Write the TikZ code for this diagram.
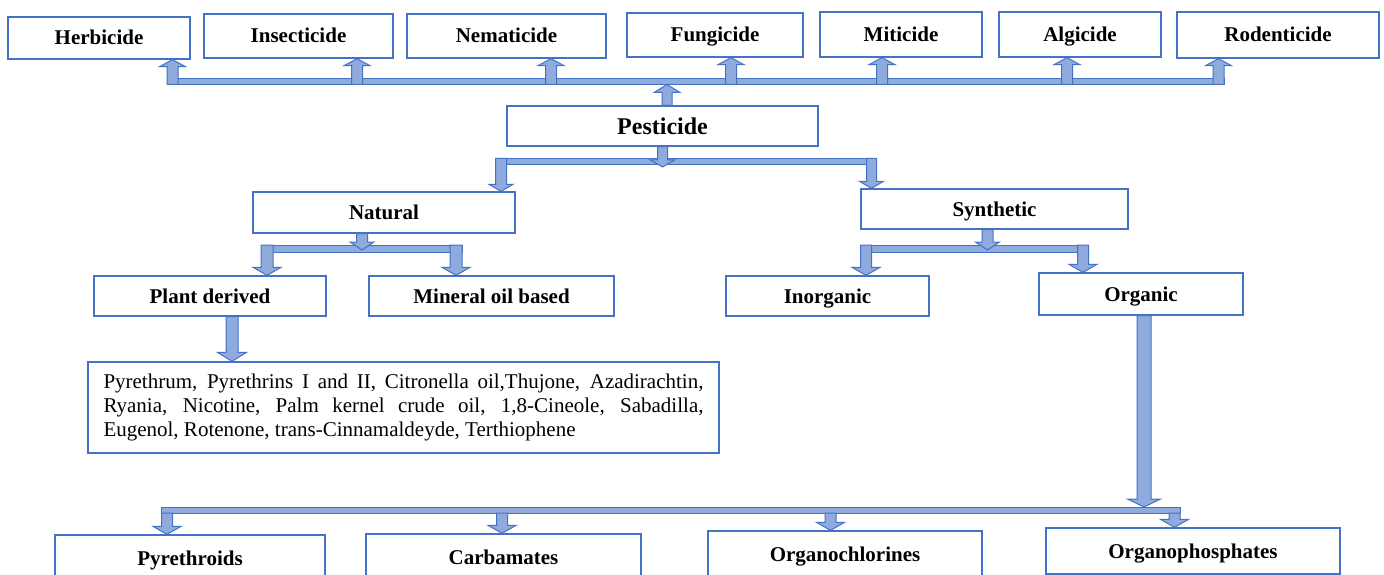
\documentclass[tikz,border=0pt]{standalone}
\usepackage{fontspec}
\setmainfont{Liberation Serif}
\usetikzlibrary{calc}
\definecolor{boxblue}{RGB}{68,114,196}
\definecolor{arrblue}{RGB}{68,114,196}
\definecolor{arrfill}{RGB}{143,170,220}
\newcommand\lab{\fontsize{21}{24}\selectfont\bfseries}
\newcommand\bigLab{\fontsize{24}{28}\selectfont\bfseries}
\newcommand\body{\fontsize{21}{24}\selectfont}
% block arrow: #1 start, #2 tip, #3 shaft half width, #4 head half width, #5 head length
\newcommand\blkarrow[5]{%
  \draw[barstyle] let \p1=#1, \p2=#2, \p3=($#2!#5!#1$) in
    (\x1-#3,\y1) -- (\x1-#3,\y3) -- (\x1-#4,\y3) -- (\x1,\y2) --
    (\x1+#4,\y3) -- (\x1+#3,\y3) -- (\x1+#3,\y1) -- cycle;}
\tikzset{
  box/.style={draw=boxblue, line width=1.3pt, fill=white, inner sep=0pt, text=black},
  labbox/.style={box, font=\lab, text height=16pt, text depth=2pt},
  barstyle/.style={draw=arrblue, fill=arrfill, line width=1pt, line join=miter},
}
\begin{document}
\begin{tikzpicture}[x=1pt,y=-1pt]
\clip (0,0) rectangle (1384,575);
\fill[white] (0,0) rectangle (1384,575);

% ---------- nodes ----------
\node[labbox, minimum width=182, minimum height=42] (herb)   at (99,38)     {Herbicide};
\node[labbox, minimum width=189, minimum height=44] (insect) at (298.5,36)  {Insecticide};
\node[labbox, minimum width=199, minimum height=44] (nemat)  at (506.5,36)  {Nematicide};
\node[labbox, minimum width=176, minimum height=44] (fung)   at (715,35)    {Fungicide};
\node[labbox, minimum width=162, minimum height=45] (mitic)  at (901,34.5)  {Miticide};
\node[labbox, minimum width=162, minimum height=45] (algic)  at (1080,34.5) {Algicide};
\node[labbox, minimum width=202, minimum height=46] (roden)  at (1278,35)   {Rodenticide};

\node[labbox, minimum width=311, minimum height=40, font=\bigLab, text height=19pt, text depth=1pt] (pest) at (662.5,126) {Pesticide};

\node[labbox, minimum width=262, minimum height=41] (natural) at (384,212.5)  {Natural};
\node[labbox, minimum width=267, minimum height=40] (synth)   at (994.5,209)  {Synthetic};

\node[labbox, minimum width=232, minimum height=40] (plant)   at (210,296)    {Plant derived};
\node[labbox, minimum width=245, minimum height=40] (mineral) at (491.5,296)  {Mineral oil based};
\node[labbox, minimum width=203, minimum height=40] (inorg)   at (827.5,296)  {Inorganic};
\node[labbox, minimum width=204, minimum height=42] (organic) at (1141,294)   {Organic};

\node[box, minimum width=631, minimum height=91, font=\body, align=left, inner xsep=15.5pt] (list) at (403.5,407.5)
  {\makebox[600pt][s]{Pyrethrum, Pyrethrins I and II, Citronella oil,Thujone, Azadirachtin,}\\
   \makebox[600pt][s]{Ryania, Nicotine, Palm kernel crude oil, 1,8-Cineole, Sabadilla,}\\
   Eugenol, Rotenone, trans-Cinnamaldeyde, Terthiophene};

\node[labbox, minimum width=270, minimum height=46] (pyr)   at (190,558)    {Pyrethroids};
\node[labbox, minimum width=275, minimum height=46] (carb)  at (503.5,557)  {Carbamates};
\node[labbox, minimum width=274, minimum height=46] (orgcl) at (845,554)    {Organochlorines};
\node[labbox, minimum width=294, minimum height=46] (orgph) at (1193,551)   {Organophosphates};

% ---------- top bus ----------
\draw[barstyle] (167,78.5) rectangle (1224,84.5);
\coordinate (t1) at (172.5,84.5);
\coordinate (t2) at (357,84.5);
\coordinate (t3) at (551,84.5);
\coordinate (t4) at (731,84.5);
\coordinate (t5) at (882,84.5);
\coordinate (t6) at (1067,84.5);
\coordinate (t7) at (1218.5,84.5);
\blkarrow{(t1)}{(herb.south -| t1)}{5.5pt}{13pt}{7pt}
\blkarrow{(t2)}{(insect.south -| t2)}{5.5pt}{13pt}{7pt}
\blkarrow{(t3)}{(nemat.south -| t3)}{5.5pt}{13pt}{7pt}
\blkarrow{(t4)}{(fung.south -| t4)}{5.5pt}{13pt}{7pt}
\blkarrow{(t5)}{(mitic.south -| t5)}{5.5pt}{13pt}{7pt}
\blkarrow{(t6)}{(algic.south -| t6)}{5.5pt}{13pt}{7pt}
\blkarrow{(t7)}{(roden.south -| t7)}{5.5pt}{13pt}{7pt}
\coordinate (pu) at (667,84.5);
\blkarrow{(pest.north -| pu)}{(pu)}{5pt}{13pt}{8pt}

% ---------- pesticide -> natural / synthetic ----------
\draw[barstyle] (495.5,158.5) rectangle (876.5,164.5);
\coordinate (pd) at (662.5,167);
\blkarrow{(pest.south -| pd)}{(pd)}{5pt}{12pt}{7pt}
\coordinate (n1) at (501,158.5);
\coordinate (n2) at (871.5,158.5);
\blkarrow{(n1)}{(natural.north -| n1)}{5.5pt}{12pt}{7pt}
\blkarrow{(n2)}{(synth.north -| n2)}{5pt}{12pt}{7pt}

% ---------- natural -> plant / mineral ----------
\draw[barstyle] (261,245) rectangle (462,252);
\coordinate (nd) at (362,250);
\blkarrow{(natural.south -| nd)}{(nd)}{5.5pt}{12pt}{8pt}
\coordinate (p1) at (267,245);
\coordinate (p2) at (456,245);
\blkarrow{(p1)}{(plant.north -| p1)}{6pt}{14pt}{8pt}
\blkarrow{(p2)}{(mineral.north -| p2)}{6pt}{14pt}{8pt}

% ---------- synthetic -> inorganic / organic ----------
\draw[barstyle] (861,245) rectangle (1088,252);
\coordinate (sd) at (987.5,250);
\blkarrow{(synth.south -| sd)}{(sd)}{5.5pt}{12pt}{8pt}
\coordinate (s1) at (866,245);
\coordinate (s2) at (1083,245);
\blkarrow{(s1)}{(inorg.north -| s1)}{5.5pt}{14pt}{8pt}
\blkarrow{(s2)}{(organic.north -| s2)}{5.5pt}{14pt}{8pt}

% ---------- plant derived -> list ----------
\coordinate (pl) at (232,316);
\blkarrow{(plant.south -| pl)}{(list.north -| pl)}{6pt}{14.5pt}{9pt}

% ---------- organic -> bottom row ----------
\draw[barstyle] (161.5,507) rectangle (1180,513);
\coordinate (od) at (1144,507);
\blkarrow{(organic.south -| od)}{(od)}{7pt}{16.5pt}{8pt}
\coordinate (b1) at (167,513);
\coordinate (b2) at (502,513);
\coordinate (b3) at (830.5,513);
\coordinate (b4) at (1174.5,513);
\blkarrow{(b1)}{(pyr.north -| b1)}{5.5pt}{14pt}{8pt}
\blkarrow{(b2)}{(carb.north -| b2)}{5.5pt}{14pt}{8pt}
\blkarrow{(b3)}{(orgcl.north -| b3)}{5.5pt}{14pt}{8pt}
\blkarrow{(b4)}{(orgph.north -| b4)}{5.5pt}{14pt}{8pt}
\end{tikzpicture}
\end{document}
